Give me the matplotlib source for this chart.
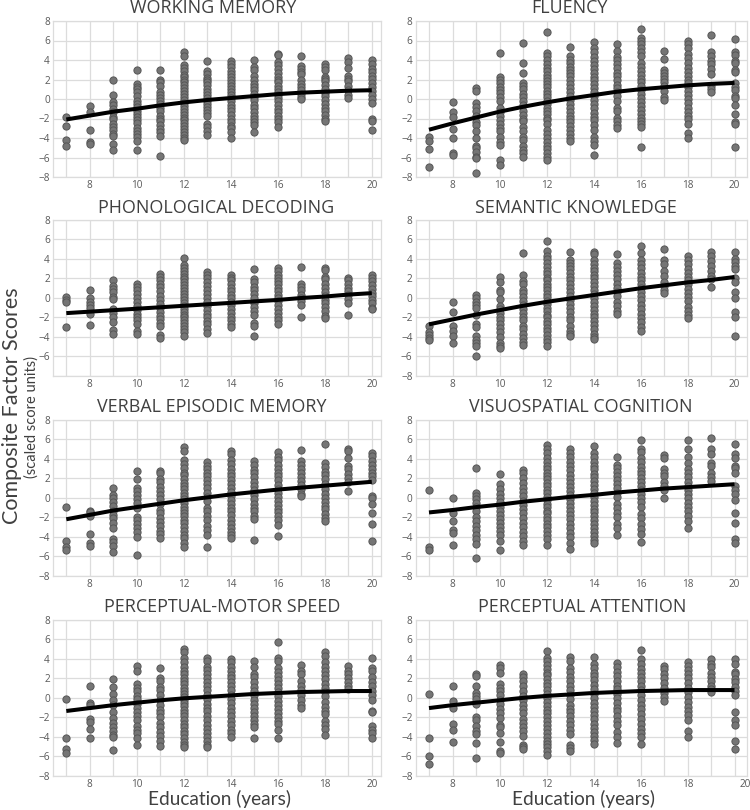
import matplotlib
matplotlib.use("Agg")
import matplotlib.pyplot as plt
from matplotlib.transforms import ScaledTranslation

plt.rcParams['font.family'] = ['Open Sans', 'DejaVu Sans']

education = [7, 8, 9, 10, 11, 12, 13, 14, 15, 16, 17, 18, 19, 20]
y_ticks = [-8, -6, -4, -2, 0, 2, 4, 6, 8]
x_labels = [8, 10, 12, 14, 16, 18, 20]

working_memory = [
 [-1.8,-2.8,-4.2,-4.8],
 [-0.7,-1.3,-3.2,-4.4,-4.6],
 [1.95,0.4,-0.3,-0.6,-1.0,-1.3,-1.8,-2.0,-2.6,-2.9,-3.2,-3.6,-3.8,-4.6,-5.2],
 [2.95,1.5,1.2,1.0,0.7,0.3,-0.2,-0.5,-0.8,-1.2,-1.5,-1.8,-2.2,-2.5,-3.0,-3.3,-3.6,-3.9,-4.3,-5.2],
 [3.0,1.9,1.7,1.3,0.7,0.4,0.1,-0.2,-0.5,-0.9,-1.2,-1.7,-2.0,-2.3,-2.7,-3.1,-3.4,-3.8,-5.85],
 [4.85,4.4,3.5,3.2,2.9,2.5,2.3,2.0,1.7,1.4,1.1,.8,.5,.2,-.1,-.4,-.7,-1,-1.3,-1.6,-1.9,-2.2,-2.5,-2.8,-3.1,-3.4,-3.7,-4.0,-4.2],
 [3.9,2.9,2.6,2.2,2.0,1.7,1.4,1.0,.7,.4,.1,-.2,-.5,-.8,-1.1,-1.4,-1.7,-2.6,-2.9,-3.3,-3.7],
 [3.9,3.6,3.3,2.9,2.6,2.3,2.0,1.6,1.3,1,.7,.4,.1,-.2,-.6,-.9,-1.2,-1.6,-2,-2.4,-2.8,-3.0,-3.4,-4.0],
 [4.0,3.3,3.0,2.4,1.9,1.5,1.2,.9,.5,.2,-.1,-.6,-.9,-1.3,-1.7,-2.1,-2.4,-2.7,-3.4],
 [4.6,4.5,3.8,3.5,3.1,2.7,2.3,2,1.7,1.3,1,.7,.4,.1,-.2,-.6,-1,-1.3,-1.7,-2.1,-2.4,-2.9],
 [4.4,3.4,3.1,2.8,2.6,2.0,1.5,1.2,.9,.5,.2,0],
 [3.6,3.3,3.0,2.3,2.1,1.8,1.4,1.0,.6,.3,-.1,-.5,-.9,-1.2,-1.6,-2,-2.3],
 [4.2,3.8,3.2,2.4,2.1,1.8,1.3,.9,.4,.1],
 [3.95,3.6,3.1,2.8,2.4,2.1,1.6,1.2,.8,.4,0,-.4,-2.0,-2.3,-3.2],
]
fluency = [
 [-3.9,-4.3,-5.1,-7.0],
 [-.35,-1.3,-1.8,-3.1,-4,-5.5,-5.7],
 [1.1,.8,-.4,-.8,-1.2,-1.7,-2.4,-2.7,-3.3,-4,-4.8,-5,-5.4,-5.9,-6.1,-7.6],
 [4.7,2.3,2,1.6,1.2,.9,.6,.2,-.2,-.9,-1.3,-1.7,-2.2,-2.6,-3,-3.3,-3.9,-4.4,-4.7,-6.3,-6.8],
 [5.7,3.7,2.7,1.6,1.3,1,.5,.2,-.2,-.6,-1.2,-1.6,-2,-2.3,-2.9,-3.3,-3.9,-4.2,-4.8,-5.2,-5.5,-5.9],
 [6.85,4.7,4.4,4,3.6,3.2,2.9,2.5,2.2,1.8,1.5,1.2,.8,.5,.2,-.2,-.5,-.9,-1.2,-1.5,-1.9,-2.2,-2.6,-3.2,-3.6,-4,-4.4,-4.8,-5.1,-5.5,-5.9,-6.3],
 [5.35,4.4,4,3.7,3.3,3,2.7,2.4,1.9,1.5,1.1,.7,.3,-.1,-.5,-.9,-1.3,-1.7,-2,-2.4,-2.8,-3.2,-3.6,-4,-4.3],
 [5.8,5.2,4.8,4.3,3.9,3.5,3.1,2.7,2.3,1.9,1.5,1.1,.7,.3,-.1,-.5,-.9,-1.4,-1.8,-2.2,-2.7,-3.2,-3.9,-4.3,-4.7,-5.7],
 [5.6,4.9,4.3,4,3.6,3.2,2.7,2.4,2,1.4,1.1,.7,.3,-.2,-.9,-1.2,-1.9,-2.3,-2.7,-3],
 [7.2,6.3,6,5.6,5.2,4.8,4.4,3.7,3.3,2.9,2.5,2.1,1.7,1.3,.9,.5,.1,-.3,-.7,-1.1,-1.5,-1.9,-2.3,-2.6,-2.9,-4.95],
 [4.9,4.1,3,2.7,2.4,2.1,1.7,1.3,.8,.2,-.1],
 [5.9,5.6,5.2,4.6,4.2,3.7,3.2,2.8,2.4,2,1.6,1.2,.8,.4,0,-.4,-.9,-1.3,-1.7,-2.1,-2.6,-3.5,-4],
 [6.6,4.8,4.4,3.9,3.6,3.1,2.6,1.3,1,.7],
 [6.15,4.8,4.5,3.9,3.7,3,2.8,1.6,1.2,.9,.3,.1,-.6,-1.5,-2.4,-2.6,-4.95],
]
phonological = [
 [.1,-.2,-.4,-3],
 [.8,0,-.4,-.7,-1,-1.6,-2.8],
 [1.8,1.2,.9,.6,.1,-.1,-1.1,-1.5,-1.9,-2.5,-3.3,-3.7],
 [1.4,1.1,.8,.4,0,-.4,-.8,-1.2,-1.6,-1.9,-2.3,-2.7,-3.4,-3.7],
 [2.5,2.2,1.8,1.4,1.1,.7,.2,-.2,-.6,-1,-1.4,-1.8,-2.2,-2.6,-2.9,-3.8,-4.1],
 [4.15,3.4,3.1,2.8,2.5,2.2,1.9,1.6,1.3,1,.7,.4,.1,-.2,-.5,-.8,-1.1,-1.4,-1.7,-2,-2.3,-2.6,-2.9,-3.2,-3.5,-3.9],
 [2.7,2.4,2,1.6,1.2,.8,.4,0,-.4,-.8,-1.2,-1.6,-2,-2.4,-2.7,-3.2,-3.6],
 [2.4,2.1,1.8,1.4,1,.7,.3,0,-.4,-.7,-1.1,-1.5,-1.9,-2.3,-2.7,-3],
 [3,1.9,1.6,1.1,.8,.4,0,-.5,-.9,-1.3,-1.7,-2.6,-2.9,-3.9],
 [3.1,2.8,2.4,2.1,1.7,1.4,1,.7,.3,0,-.3,-.7,-1.1,-1.5,-1.9,-2.3,-2.7],
 [3.15,1.4,1.1,.8,.3,0,-.3,-.7,-1.95],
 [3.05,2.9,2.2,1.9,1.4,1,.6,.2,-.2,-.5,-.9,-1.3,-1.8,-2.1],
 [2,1.8,1.4,1,.7,.3,-.1,-.5,-1.7],
 [2.4,2,1.7,1.3,.9,.5,.2,-.2,-.5,-1,-1.1],
]
semantic = [
 [-2.9,-3.5,-3.8,-4.1,-4.3],
 [-.4,-1.4,-2.9,-3.4,-3.9,-4.6],
 [.3,0,-.4,-.7,-1,-1.7,-2.7,-3,-3.9,-4.3,-4.6,-4.9,-5.9],
 [2.2,1.6,.8,.6,-.1,-.8,-1.1,-1.5,-1.9,-2.3,-2.7,-3.1,-3.5,-4,-4.6,-4.9,-5.1],
 [4.6,2.4,1.7,1.4,.8,.5,.1,-.3,-.7,-1.1,-1.5,-1.9,-2.3,-2.9,-3.2,-3.7,-4.1,-4.5,-4.8],
 [5.85,4.8,4.3,4,3.6,3.2,2.8,2.5,2.1,1.8,1.4,1.1,.8,.4,.1,-.3,-.6,-1,-1.3,-1.7,-2,-2.4,-2.7,-3.1,-3.4,-3.8,-4.2,-4.5,-4.9],
 [4.75,3.9,3.6,3.3,3,2.6,2.2,1.8,1.4,1,.6,.2,-.2,-.6,-1,-1.4,-1.9,-2.3,-2.9,-3.4,-3.7,-3.9],
 [4.7,4.5,3.9,3.5,3.1,2.8,2.4,2,1.6,1.2,.8,.4,0,-.4,-.8,-1.2,-1.6,-2,-2.4,-2.8,-3.2,-3.7,-4,-4.2],
 [4.55,3.6,3.2,2.8,2.4,1.9,1.4,1,.6,.2,-.4,-.8,-1.3,-1.6],
 [5.35,4.6,3.9,3.5,3.1,2.6,2.2,1.8,1.4,1,.6,.2,-.2,-.7,-1.1,-1.6,-2.1,-2.5,-3,-3.4],
 [5.05,3.9,3.5,2.8,2.3,1.6,1.2,.8,.5],
 [4.3,3.9,3.5,3,2.6,2.2,1.8,1.4,.9,.5,.1,-.3,-.9,-1.3,-1.7,-2.1],
 [4.7,4.3,3.8,3.3,2.8,2.3,1.9,1.1],
 [4.75,4,3.7,3.3,3,2.1,1.6,.6,0,-1.4,-2,-3.85],
]
verbal = [
 [-.9,-4.4,-5,-5.4],
 [-1.3,-1.5,-1.9,-3.7,-4.6,-4.9],
 [1,.3,0,-.4,-.8,-1.4,-1.8,-2.1,-2.6,-3.1,-4.2,-4.5,-4.9,-5.6],
 [2.8,1.9,1,.7,.3,-.1,-.5,-1,-2,-2.3,-2.7,-3.1,-3.5,-4,-5.9],
 [2.8,2.6,1.9,1.6,1.1,.7,.3,-.1,-.6,-1.2,-1.6,-2.1,-2.5,-2.9,-3.4,-3.7,-4.1],
 [5.2,4.8,3.9,3.5,3.1,2.6,2.3,1.9,1.5,1.2,.9,.5,.2,-.1,-.5,-.9,-1.2,-1.6,-1.9,-2.3,-2.6,-3,-3.4,-3.8,-4.1,-4.6,-5.1],
 [3.7,3.3,3,2.6,2.2,1.8,1.4,1,.5,.1,-.3,-1,-1.4,-1.9,-2.3,-2.9,-3.3,-3.8,-5.1],
 [4.8,4.5,3.9,3.5,3,2.6,2.2,1.8,1.4,1,.6,.2,-.2,-.6,-1,-1.4,-1.8,-2.3,-2.7,-3.1,-3.5,-3.8,-4.1],
 [3.8,3.4,2.9,2.6,2.1,1.6,1.2,.8,.3,-.1,-.6,-1,-1.4,-1.9,-2.2,-4.3],
 [4.7,4.2,3.9,3.4,3,2.6,2.2,1.8,1.3,.9,.5,.1,-.3,-.7,-1.1,-1.5,-1.9,-2.3,-2.8,-3.95],
 [4.9,3.8,3.4,3,2.6,2.1,1.7,1.3,.9,.4,.2],
 [5.55,3.6,3.2,2.7,2.3,1.9,1.4,.9,.4,0,-.4,-.8,-1.1,-1.7,-2.1,-2.4],
 [5,4.8,4.1,3.3,3,2.4,2,1.6,.7],
 [4.6,4.3,3.8,3.4,3,2.6,2.2,1.8,.2,0,-.6,-1.6,-2.7,-4.4],
]
visuospatial = [
 [.85,-5,-5.4],
 [0,-1.6,-2.4,-3.3,-3.6,-4.8],
 [3.1,.5,.2,-.1,-.5,-.9,-1.4,-2,-2.4,-2.9,-3.3,-3.8,-4.2,-4.7,-6.2],
 [2.5,1.4,.9,.4,0,-.4,-.9,-1.4,-1.8,-2.2,-2.6,-3,-3.4,-3.8,-4.4,-5.4],
 [2.9,2.6,2,1.5,1,.6,.2,-.3,-.7,-1.1,-1.6,-2.1,-2.6,-3,-3.5,-3.9,-4.4,-4.8],
 [5.4,5,4.6,4.1,3.7,3.3,3,2.6,2.2,1.9,1.5,1.2,.8,.5,.1,-.2,-.6,-.9,-1.3,-1.6,-2,-2.3,-2.7,-3,-3.4,-3.8,-4.2,-4.8],
 [5,4.6,4.2,3.7,3.3,2.9,2.3,1.9,1.5,1.1,.7,.3,-.1,-.5,-.9,-1.3,-1.8,-2.2,-2.7,-3.1,-3.6,-4,-4.6,-5.3],
 [5.3,4.6,4.2,3.7,3.3,3,2.5,2.1,1.7,1.3,.9,.5,.1,-.3,-.7,-1.1,-1.5,-1.9,-2.3,-2.7,-3.1,-3.5,-3.9,-4.3,-4.6],
 [4.2,3.4,3.1,2.7,2.2,1.8,1.4,1,.5,.1,-.6,-1,-1.6,-2,-2.7,-3.1,-3.8],
 [5.9,5,4.7,4.1,3.7,3.2,2.8,2.4,2,1.6,1.2,.8,.4,0,-.4,-.9,-1.7,-2.1,-2.7,-3.2,-3.7,-4.5],
 [4.4,4.1,3,2.6,2.2,1.6,1.2,.8,0],
 [5.9,5,4.2,3.6,3,2.6,2.1,1.6,1.2,.8,.4,0,-.5,-.9,-1.3,-1.9,-2.4,-3.1],
 [6.15,5,4.5,3.6,3.3,2.6,2.1,1.7],
 [5.5,4.5,4.1,3.3,3.1,2.6,1.2,.8,.4,-.2,-1.6,-2.6,-4.2,-4.6],
]
motor_speed = [
 [-.15,-4.15,-5.3,-5.7],
 [1.25,-.5,-.7,-2.2,-2.5,-3.2,-4.1],
 [1.95,1.15,.4,-.2,-.7,-1.5,-2.1,-2.6,-3,-3.4,-3.8,-4,-5.4],
 [3.3,2.8,1.4,1,.7,.2,-.1,-.6,-1,-1.5,-1.9,-2.3,-2.9,-3.3,-3.6,-4.1,-4.8],
 [3.1,2,1.7,1.1,.8,.3,-.2,-.7,-1.2,-1.6,-2,-2.6,-3,-3.5,-3.9,-4.4,-4.9],
 [5,4.7,4.1,3.7,3.2,2.8,2.4,2,1.7,1.4,1,.7,.4,.1,-.2,-.5,-.8,-1.2,-1.6,-1.9,-2.3,-2.7,-3,-3.4,-3.7,-4.1,-4.5,-4.8,-5.1],
 [4.1,3.8,3.2,2.9,2.4,2,1.6,1.2,.8,.3,-.1,-.6,-1,-1.4,-1.9,-2.3,-2.8,-3.2,-3.6,-4,-4.4,-4.8,-5.1],
 [4,3.7,3.2,2.8,2.3,2,1.6,1.2,.8,.3,-.1,-.5,-1,-1.5,-1.9,-2.4,-2.8,-3.3,-3.6,-4.05],
 [3.8,3.2,2.5,2.1,1.6,1.1,.7,.3,-.2,-.6,-1,-1.5,-1.9,-2.3,-2.7,-3,-4.1],
 [5.7,4.1,3.8,3.1,2.7,2.2,1.8,1.4,1,.6,.2,-.3,-.7,-1.1,-1.6,-2,-2.4,-2.7,-3.3,-4.1],
 [3.4,2.8,2.5,1.7,1.2,.8,.3,-.2,-.7,-1],
 [4.7,4.3,3.7,3.2,2.8,2.3,1.9,1.4,1,.6,.2,-.4,-.9,-1.3,-1.7,-2.4,-2.8,-3.2,-3.8],
 [3.3,2.8,2.4,2,1.6,1.2,.9],
 [4.1,3.1,2.8,2.1,1.6,1.2,.7,.3,-.2,-1.3,-1.5,-2.9,-3.3,-3.6,-4.1],
]
attention = [
 [.4,-4.15,-6,-6.8],
 [1.2,-.3,-1,-2.7,-3.3,-4.5],
 [2.4,2.2,1.2,.5,.2,-.1,-.6,-2,-2.3,-2.9,-3.4,-3.7,-4.6,-6.2],
 [3.4,3.1,2.6,1.4,1,.7,.3,-.2,-.6,-1.1,-1.6,-2.1,-2.8,-3,-3.6,-4.5,-5.5,-5.7],
 [2.5,2.1,1.7,1.2,.7,.2,-.2,-.7,-1.1,-1.6,-2.2,-2.6,-3,-3.4,-3.9,-4.8,-5.1,-5.3],
 [4.8,4.1,3.8,3.4,3,2.6,2.3,1.9,1.5,1.2,.8,.4,0,-.4,-.8,-1.2,-1.6,-2,-2.4,-2.8,-3.2,-3.6,-4,-4.4,-4.7,-5.1,-5.5,-5.9],
 [4.2,3.8,3.1,2.7,2.1,1.7,1.2,.8,.3,-.1,-.7,-1.1,-1.5,-1.9,-2.4,-2.8,-3.3,-3.7,-4.8,-5.2,-5.5],
 [4.2,3.5,3.1,2.6,2.2,1.8,1.3,.9,.4,0,-.5,-.9,-1.4,-1.8,-2.2,-2.7,-3.1,-3.5,-3.9,-4.3,-4.7],
 [3.6,3.2,2.7,2.2,1.7,1.2,.9,.4,0,-.5,-1,-1.3,-1.9,-2.4,-2.8,-3.5,-4,-4.6],
 [4.9,4,3.5,3,2.6,2.1,1.7,1.2,.8,.3,-.2,-.7,-1.1,-1.7,-2.2,-2.7,-3.2,-3.6,-4,-4.7],
 [3.3,3,2.4,2,1.5,1,.5,.1,-.3],
 [3.7,3.3,2.9,2.5,2,1.5,1,.6,.1,-.4,-.9,-1.4,-1.8,-2.3,-3.4,-4],
 [4,3.5,3.2,2.6,2.1,1.7,1.2,.9,.6],
 [4,3.5,2.7,2.5,1.9,1.6,1.1,.7,.3,-1.5,-2.3,-2.8,-4.4,-5.3],
]

fit_wm = [-2.1,-1.7,-1.3,-1.0,-0.65,-0.35,-0.1,0.1,0.3,0.5,0.65,0.75,0.85,0.9]
fit_fl = [-3.15,-2.5,-1.9,-1.3,-0.8,-0.35,0.05,0.4,0.75,1.0,1.2,1.4,1.55,1.65]
fit_ph = [-1.55,-1.4,-1.25,-1.1,-0.95,-0.8,-0.65,-0.5,-0.35,-0.2,0.0,0.15,0.35,0.5]
fit_se = [-2.7,-2.2,-1.7,-1.25,-0.8,-0.4,-0.05,0.3,0.65,1.0,1.3,1.6,1.85,2.15]
fit_ve = [-2.2,-1.75,-1.3,-0.95,-0.6,-0.25,0.05,0.35,0.6,0.85,1.05,1.25,1.45,1.65]
fit_vi = [-1.5,-1.25,-0.95,-0.7,-0.4,-0.15,0.1,0.3,0.55,0.75,0.95,1.1,1.25,1.4]
fit_mo = [-1.35,-1.05,-0.75,-0.5,-0.25,-0.05,0.1,0.25,0.4,0.5,0.6,0.65,0.7,0.7]
fit_at = [-1.05,-0.75,-0.5,-0.25,0.0,0.2,0.35,0.5,0.6,0.7,0.75,0.8,0.8,0.8]

W, H = 750, 810
fig = plt.figure(figsize=(W/100, H/100), dpi=100, facecolor='white')

TXT = '#404040'
TICK = '#595959'
GRID = '#dcdcdc'

panels = [
 ('WORKING MEMORY', working_memory, fit_wm, 53.3, 381, 21, 177, 213, 8),
 ('FLUENCY', fluency, fit_fl, 416, 747, 21, 177, 569, 8),
 ('PHONOLOGICAL DECODING', phonological, fit_ph, 53.3, 381, 220, 376, 216, 208),
 ('SEMANTIC KNOWLEDGE', semantic, fit_se, 416, 747, 220, 376, 576, 208),
 ('VERBAL EPISODIC MEMORY', verbal, fit_ve, 53.3, 381, 420, 575.7, 212, 407),
 ('VISUOSPATIAL COGNITION', visuospatial, fit_vi, 416, 747, 420, 575.7, 581, 407),
 ('PERCEPTUAL-MOTOR SPEED', motor_speed, fit_mo, 53.3, 381, 620, 775.7, 222, 607),
 ('PERCEPTUAL ATTENTION', attention, fit_at, 416, 747, 620, 775.7, 582, 607),
]

PX_PER_YEAR = 23.5
for i, (title, cols, fit, l, r, t, b, tx, ty) in enumerate(panels):
    ax = fig.add_axes([l/W, 1-b/H, (r-l)/W, (b-t)/H])
    ax.set_ylim(-8, 8)
    ax.set_xlim(7-13/PX_PER_YEAR, 7+(r-l-13)/PX_PER_YEAR)
    ax.set_axisbelow(True)
    ax.set_xticks(education)
    ax.set_xticklabels([str(e) if e in x_labels else '' for e in education])
    ax.set_yticks(y_ticks)
    ylabs = [str(v).replace('-', '\u2212') for v in y_ticks]
    if title == 'PHONOLOGICAL DECODING':
        ylabs[0] = ''
    ax.set_yticklabels(ylabs)
    ax.tick_params(length=0, labelsize=7.2, labelcolor=TICK, pad=2.5)
    ax.grid(True, color=GRID, lw=0.9)
    for s in ax.spines.values():
        s.set_color(GRID)
        s.set_linewidth(0.9)
    for e, vals in zip(education, cols):
        ax.scatter([e]*len(vals), vals, s=27, facecolor='#757575',
                   edgecolor='#565656', linewidth=0.7, zorder=3, clip_on=False)
    ax.plot(education, fit, color='black', lw=2.9, zorder=4, solid_capstyle='butt')
    if title == 'PERCEPTUAL ATTENTION':
        for lab, e in zip(ax.get_xticklabels(), education):
            if e == 20:
                lab.set_transform(lab.get_transform() +
                                  ScaledTranslation(11/100, 0, fig.dpi_scale_trans))
                lab.set_clip_on(False)
    fig.text(tx/W, 1-ty/H, title, ha='center', va='center', fontsize=12.9, color=TXT)

fig.text(220/W, 1-799/H, 'Education (years)', ha='center', va='center', fontsize=13.7, color=TXT, family='Lato')
fig.text(583/W, 1-799/H, 'Education (years)', ha='center', va='center', fontsize=13.7, color=TXT, family='Lato')
fig.text(12/W, 1-406/H, 'Composite Factor Scores', rotation=90, ha='center', va='center', fontsize=15.5, color=TXT, family='Lato')
fig.text(32/W, 1-417/H, '(scaled score units)', rotation=90, ha='center', va='center', fontsize=10.5, color=TXT, family='Lato')

fig.savefig('out.png', dpi=100, facecolor='white')
